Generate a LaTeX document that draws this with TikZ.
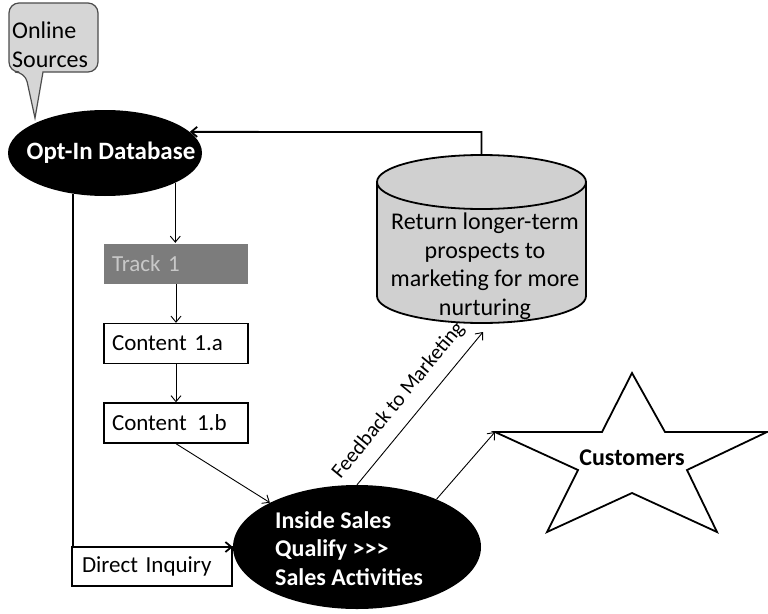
\documentclass[tikz,border=0pt]{standalone}
\usepackage{fontspec}
\setmainfont{Carlito}
\usetikzlibrary{arrows.meta,shapes.geometric}
\definecolor{calloutgray}{HTML}{D6D6D6}
\definecolor{cylgray}{HTML}{D0D0D0}
\definecolor{trackgray}{HTML}{7C7C7C}
\definecolor{tracktext}{HTML}{C8C8C8}
\tikzset{
  txt/.style={font=\fontsize{24}{28.5}\selectfont},
  bold/.style={font=\fontsize{24}{28.5}\selectfont\bfseries},
  blackoval/.style={ellipse, fill=black, text=white, inner sep=0pt},
  stepbox/.style={draw=black, line width=1.4pt, fill=white, minimum width=144, minimum height=40,
    text width=128, align=left, inner xsep=8, inner ysep=0, font=\fontsize{23}{28}\selectfont},
  tip/.style={-{Straight Barb[length=6pt,width=10pt]}},
  thin arrow/.style={tip, line width=0.9pt},
  thick line/.style={line width=1.8pt}
}
\begin{document}
\begin{tikzpicture}[x=1pt,y=-1pt]
\useasboundingbox (0,0) rectangle (768,613);

% speech bubble for the lead sources
\draw[draw=black!70, line width=1.2pt, fill=calloutgray, rounded corners=10pt]
  (43,72) -- (98,72) -- (98,3) -- (9,3) -- (9,72) -- (25,72) [sharp corners] -- (35,118) -- (43,72) -- cycle;
\node[txt, anchor=north west, align=left, inner sep=0pt] (online) at (12,22) {Online\\Sources};

% database of opted-in contacts
\node[blackoval, minimum width=194, minimum height=86] (optin) at (105,153) {};
\node[font=\fontsize{25}{28}\selectfont\bfseries, text=white, inner sep=0pt] (optintext) at (111,153) {Opt-In Database};

% nurturing track
\node[stepbox, fill=trackgray, draw=none, text=tracktext] (track) at (176,263.5) {Track 1};
\node[stepbox] (c1a) at (176,343.5) {Content 1.a};
\node[stepbox] (c1b) at (176,423) {Content\hspace{0.45em}1.b};

% sales qualification
\node[blackoval, minimum width=248, minimum height=124] (sales) at (357,547) {};
\node[bold, text=white, align=left, inner sep=0pt, anchor=north west] (salestext) at (275,511)
  {Inside Sales\\Qualify >{}>{}>\\Sales Activities};

% direct inquiry box
\node[stepbox, minimum width=160, minimum height=39, text width=140, inner xsep=10] (direct) at (152,566.5) {Direct Inquiry};

% cylinder: return to marketing
\draw[line width=1.8pt, fill=cylgray]
  (377,182) -- (377,296) arc[start angle=180, end angle=0, x radius=104.5, y radius=27]
  -- (586,182) arc[start angle=0, end angle=-180, x radius=104.5, y radius=27] -- cycle;
\draw[line width=1.8pt] (377,182) arc[start angle=180, end angle=0, x radius=104.5, y radius=27];
\coordinate (cyltop) at (481.5,155);
\coordinate (cylbase) at (483,332);
\node[txt, align=center, inner sep=0pt, anchor=north] (ret) at (485,213)
  {Return longer-term\\prospects to\\marketing for more\\nurturing};

% customers star
\draw[line width=1.8pt, fill=white]
  (632,373) -- (665,432) -- (767,432) -- (687,470) -- (717,532) -- (632,493)
  -- (547,532) -- (578,470) -- (495,432) -- (602,432) -- cycle;
\coordinate (starleft) at (495,432);
\node[bold] (cust) at (632,458) {Customers};

% connectors
\coordinate (bend) at (481.5,132);
\draw[tip, thick line] (cyltop) -- (bend) -- (optin.14);
\draw[thin arrow] (optin.-23) -- (optin.-23 |- track.north);
\draw[thin arrow] (track.south) -- (c1a.north);
\draw[thin arrow] (c1a.south) -- (c1b.north);
\draw[thin arrow] (c1b.south) -- (sales.153);
\draw[tip, thick line] (optin.232) |- (sales.west);
\draw[thin arrow] (sales.north) -- (cylbase);
\node[rotate=50.5, inner sep=0pt, font=\fontsize{21}{24}\selectfont] (fb) at (398.5,400.5) {Feedback to Marketing};
\draw[thin arrow] (sales.31) -- (starleft);
\end{tikzpicture}
\end{document}
